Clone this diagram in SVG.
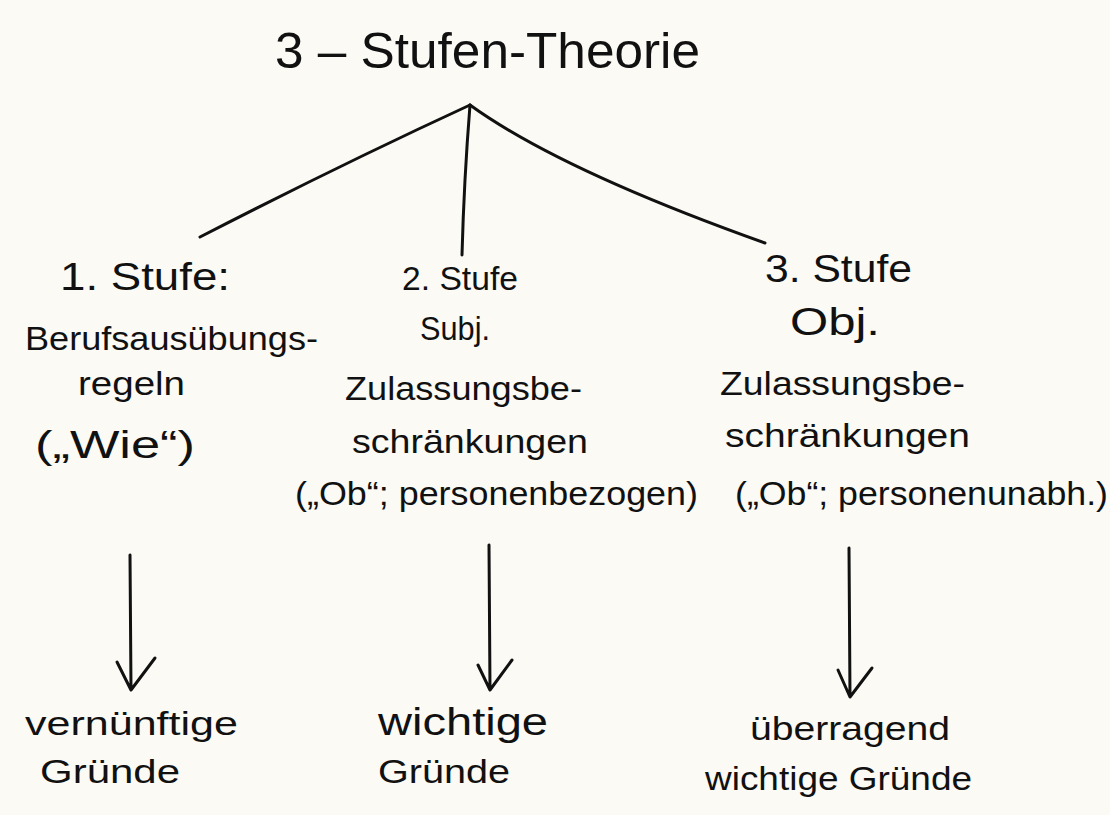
<svg xmlns="http://www.w3.org/2000/svg" width="1110" height="815" viewBox="0 0 1110 815">
<defs>
<style>
.t{font-family:"Liberation Sans","DejaVu Sans",sans-serif;fill:#111;font-size:34px}
.h{font-size:50px}
.l{font-size:38px}
.c{fill:none;stroke:#111;stroke-width:3;stroke-linecap:round;stroke-linejoin:round}
</style>
</defs>
<rect width="1110" height="815" fill="#fbfaf5"/>
<g id="title"><text class="t h" x="275" y="68" textLength="425" lengthAdjust="spacingAndGlyphs">3 – Stufen-Theorie</text></g>
<g id="connectors">
<path class="c" d="M470 105 Q340 165 200 237"/>
<path class="c" d="M470 105 Q464 180 462 255"/>
<path class="c" d="M470 105 Q560 170 765 243"/>
<path class="c" d="M130 555 L131 690 M117 662 L131 690 L155 658"/>
<path class="c" d="M489 545 L490 690 M478 665 L490 690 L512 660"/>
<path class="c" d="M849 548 L850 697 M838 670 L850 697 L872 668"/>
</g>
<g id="stufe1">
<text class="t l" x="60" y="290" textLength="170" lengthAdjust="spacingAndGlyphs">1. Stufe:</text>
<text class="t" x="25" y="350" textLength="293" lengthAdjust="spacingAndGlyphs">Berufsausübungs-</text>
<text class="t" x="78" y="395" textLength="107" lengthAdjust="spacingAndGlyphs">regeln</text>
<text class="t l" x="35" y="458" textLength="160" lengthAdjust="spacingAndGlyphs">(„Wie“)</text>
</g>
<g id="stufe2">
<text class="t" x="402" y="290" textLength="116" lengthAdjust="spacingAndGlyphs">2. Stufe</text>
<text class="t" x="420" y="340" textLength="70" lengthAdjust="spacingAndGlyphs">Subj.</text>
<text class="t" x="345" y="400" textLength="237" lengthAdjust="spacingAndGlyphs">Zulassungsbe-</text>
<text class="t" x="352" y="453" textLength="236" lengthAdjust="spacingAndGlyphs">schränkungen</text>
<text class="t" x="295" y="505" textLength="403" lengthAdjust="spacingAndGlyphs">(„Ob“; personenbezogen)</text>
</g>
<g id="stufe3">
<text class="t l" x="765" y="282" textLength="147" lengthAdjust="spacingAndGlyphs">3. Stufe</text>
<text class="t l" x="790" y="335" textLength="90" lengthAdjust="spacingAndGlyphs">Obj.</text>
<text class="t" x="720" y="395" textLength="245" lengthAdjust="spacingAndGlyphs">Zulassungsbe-</text>
<text class="t" x="725" y="447" textLength="245" lengthAdjust="spacingAndGlyphs">schränkungen</text>
<text class="t" x="735" y="505" textLength="373" lengthAdjust="spacingAndGlyphs">(„Ob“; personenunabh.)</text>
</g>
<g id="grund1">
<text class="t" x="25" y="735" textLength="213" lengthAdjust="spacingAndGlyphs">vernünftige</text>
<text class="t" x="40" y="783" textLength="140" lengthAdjust="spacingAndGlyphs">Gründe</text>
</g>
<g id="grund2">
<text class="t l" x="378" y="735" textLength="170" lengthAdjust="spacingAndGlyphs">wichtige</text>
<text class="t" x="378" y="783" textLength="132" lengthAdjust="spacingAndGlyphs">Gründe</text>
</g>
<g id="grund3">
<text class="t" x="750" y="740" textLength="200" lengthAdjust="spacingAndGlyphs">überragend</text>
<text class="t" x="705" y="790" textLength="267" lengthAdjust="spacingAndGlyphs">wichtige Gründe</text>
</g>
</svg>
